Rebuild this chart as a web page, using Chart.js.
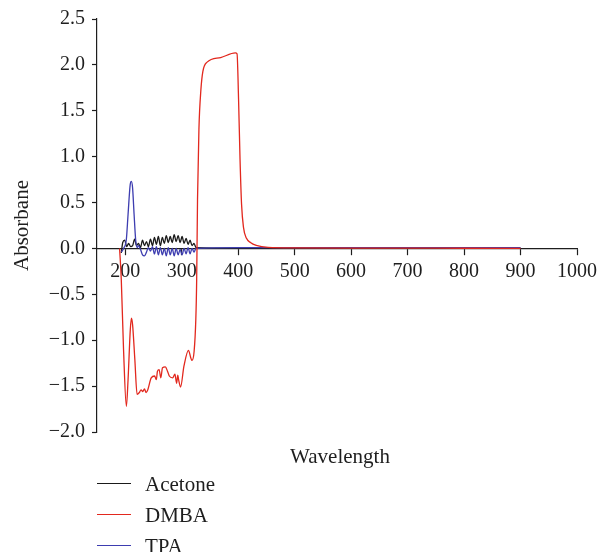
<!DOCTYPE html>
<html><head><meta charset="utf-8">
<script src="https://cdn.jsdelivr.net/npm/chart.js@4/dist/chart.umd.min.js"></script>
<style>
html,body{margin:0;padding:0;background:#fff;}
#wrap{position:relative;width:602px;height:552px;overflow:hidden;font-family:"Liberation Serif","DejaVu Serif",serif;color:#1e1e1e;}
#cv{position:absolute;left:0;top:0;width:602px;height:552px;}
#xtitle{position:absolute;left:240px;width:200px;top:444px;text-align:center;font-size:21px;line-height:24px;}
.lg{position:absolute;left:97px;height:24px;font-size:21px;line-height:24px;}
.lg span.ln{position:absolute;left:0;top:11px;width:34px;height:1.3px;}
.lg span.tx{position:absolute;left:48px;top:0;white-space:nowrap;}
</style></head>
<body>
<div id="wrap">
<div id="cv"><canvas id="c"></canvas></div>
<div id="xtitle">Wavelength</div>
<div id="legend"></div>
</div>
<script>
// ---- data ----
const seriesNames = ["Acetone", "DMBA", "TPA"];
const seriesColors = ["#1a1a1a", "#e2281e", "#3d3db0"];
const xAxisTitle = "Wavelength";
const yAxisTitle = "Absorbane";
const xTickValues = [200, 300, 400, 500, 600, 700, 800, 900, 1000];
const yTickValues = [-2.0, -1.5, -1.0, -0.5, 0.0, 0.5, 1.0, 1.5, 2.0, 2.5];

const acetoneX = [193, 195.6, 199, 202.6, 206, 209.6, 213, 216.6, 220, 223.6, 227, 230.6, 234, 237.6, 241, 244.7, 248.2, 251.7, 255.2, 258.7, 262.2, 265.7, 269.2, 272.7, 276.2, 279.7, 283.2, 286.7, 290.2, 293.7, 297.2, 300.7, 304.2, 307.8, 311.3, 314.8, 318.3, 321.8, 325.3, 400, 500, 600, 700, 800, 900];
const acetoneY = [-0.05, 0.065, 0.09, 0.02, 0.055, 0.02, 0.03, 0.10, 0.03, 0.055, 0.01, 0.09, 0.03, 0.075, 0.02, 0.10, 0.03, 0.12, 0.045, 0.13, 0.03, 0.12, 0.055, 0.14, 0.065, 0.13, 0.065, 0.15, 0.075, 0.14, 0.065, 0.13, 0.055, 0.11, 0.045, 0.09, 0.03, 0.055, 0.01, 0.004, 0.003, 0.003, 0.002, 0.002, 0.002];

const dmbaX = [190, 193, 197, 202, 205, 209, 211, 213, 217, 221, 225, 228, 231, 234, 237, 240, 246, 252, 255, 257, 260, 263, 266, 271, 275, 278, 284, 288, 291, 293, 294.5, 298, 304, 312, 316, 318, 322, 325, 326.5, 328, 330.5, 334, 337.5, 345, 369, 395, 398, 400.7, 403.3, 406, 409.4, 414.7, 421.7, 432, 453, 500, 600, 700, 800, 900];
const dmbaY = [0, -0.34, -1.10, -1.72, -1.43, -0.88, -0.76, -0.83, -1.21, -1.59, -1.57, -1.54, -1.56, -1.53, -1.57, -1.54, -1.41, -1.39, -1.43, -1.34, -1.32, -1.41, -1.30, -1.29, -1.34, -1.39, -1.41, -1.37, -1.47, -1.38, -1.43, -1.51, -1.28, -1.11, -1.19, -1.22, -1.12, -0.77, -0.34, 0.53, 1.30, 1.73, 1.93, 2.03, 2.08, 2.13, 2.12, 1.62, 0.97, 0.48, 0.23, 0.11, 0.065, 0.033, 0.011, 0.006, 0.004, 0.003, 0.002, 0.001];

const tpaX = [193, 197, 202, 205, 208.7, 210.8, 213, 215.7, 218.4, 221, 223.6, 227, 230.6, 234, 237.6, 241, 244.7, 248.2, 251.7, 255.2, 258.7, 262.2, 265.7, 269.2, 272.7, 276.2, 279.7, 283.2, 286.7, 290.2, 293.7, 297.2, 300.7, 304.2, 307.8, 311.3, 314.8, 318.3, 321.8, 325.3, 400, 500, 600, 700, 800, 900];
const tpaY = [-0.04, 0, 0.10, 0.37, 0.69, 0.73, 0.66, 0.37, 0.10, 0.01, 0.03, -0.01, -0.07, -0.08, -0.04, 0.01, -0.03, 0.02, -0.06, 0.02, -0.07, 0.01, -0.07, 0.0, -0.08, 0.01, -0.07, 0.0, -0.08, 0.0, -0.07, -0.01, -0.07, 0.0, -0.06, 0.01, -0.06, 0.0, -0.04, 0.0, 0.01, 0.01, 0.01, 0.01, 0.01, 0.01];

// ---- build ----
const FONT = "'Liberation Serif', 'DejaVu Serif', serif";
const xs = [acetoneX, dmbaX, tpaX];
const ys = [acetoneY, dmbaY, tpaY];
const datasets = seriesNames.map((name, i) => ({
  label: name,
  data: xs[i].map((x, k) => ({x: x, y: ys[i][k]})),
  borderColor: seriesColors[i],
  backgroundColor: seriesColors[i],
  borderWidth: 1.3,
  pointRadius: 0,
  fill: false,
  cubicInterpolationMode: 'monotone',
  order: [2, 0, 1][i]
}));

const fmt = v => (v < 0 ? "\u2212" : "") + Math.abs(v).toFixed(1);

new Chart(document.getElementById('c'), {
  type: 'line',
  data: {datasets},
  options: {
    responsive: true,
    maintainAspectRatio: false,
    animation: false,
    layout: {padding: {left: 0, top: 19, right: 20, bottom: 120}},
    plugins: {legend: {display: false}, tooltip: {enabled: false}},
    scales: {
      x: {
        type: 'linear',
        min: 150, max: 1000,
        position: {y: 0},
        afterBuildTicks: s => { s.ticks = xTickValues.map(v => ({value: v})); },
        afterFit: s => { s.height = 0; },
        border: {display: true, color: '#1e1e1e', width: 1.2},
        grid: {drawOnChartArea: false, drawTicks: true, tickLength: 6, color: '#1e1e1e', tickWidth: 1.2},
        ticks: {color: '#1e1e1e', font: {family: FONT, size: 20}, padding: 5, maxRotation: 0, autoSkip: false, callback: v => String(v)}
      },
      y: {
        type: 'linear',
        min: -2, max: 2.5,
        afterBuildTicks: s => { s.ticks = yTickValues.map(v => ({value: v})); },
        afterFit: s => { s.width = 97; },
        border: {display: true, color: '#1e1e1e', width: 1.2},
        grid: {drawOnChartArea: false, drawTicks: true, tickLength: 5, color: '#1e1e1e', tickWidth: 1.2},
        ticks: {color: '#1e1e1e', font: {family: FONT, size: 20}, padding: 7, callback: v => fmt(v)},
        title: {display: true, text: yAxisTitle, color: '#1e1e1e', font: {family: FONT, size: 21}, padding: {top: 10, bottom: 0}}
      }
    }
  }
});

// ---- legend (HTML text) ----
const lg = document.getElementById('legend');
const legendTops = [472, 503, 534];
seriesNames.forEach((name, i) => {
  const d = document.createElement('div');
  d.className = 'lg';
  d.style.top = legendTops[i] + 'px';
  const ln = document.createElement('span'); ln.className = 'ln'; ln.style.background = seriesColors[i];
  const tx = document.createElement('span'); tx.className = 'tx'; tx.textContent = name;
  d.appendChild(ln); d.appendChild(tx); lg.appendChild(d);
});
document.getElementById('xtitle').textContent = xAxisTitle;
</script>
</body></html>
